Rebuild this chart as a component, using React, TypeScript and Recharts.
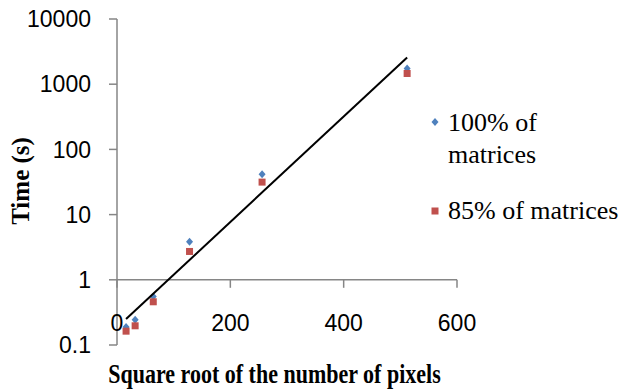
import { ScatterChart, Scatter, XAxis, YAxis, ReferenceLine, ReferenceDot } from 'recharts'

const pixelsSqrt = [16, 32, 64, 128, 256, 512]
const timeAll = [0.188, 0.244, 0.555, 3.83, 41.4, 1740]
const time85 = [0.163, 0.197, 0.46, 2.72, 31.5, 1460]
const trendX = [16, 512]
const trendY = [0.25, 2570]
const xTicks = [0, 200, 400, 600]
const yTicks = [0.1, 1, 10, 100, 1000, 10000]

const allData = pixelsSqrt.map((x, i) => ({ x, y: timeAll[i] }))
const data85 = pixelsSqrt.map((x, i) => ({ x, y: time85[i] }))
const trendData = trendX.map((x, i) => ({ x, y: trendY[i] }))

const AXIS = '#868686'
const SANS = '"Liberation Sans", Arial, sans-serif'
const SERIF = '"Liberation Serif", "Times New Roman", serif'

const Diamond = ({ cx, cy }: any) => (
  <polygon
    points={`${cx},${cy - 4} ${cx + 3.5},${cy} ${cx},${cy + 4} ${cx - 3.5},${cy}`}
    fill="#4F81BD"
  />
)

const Square = ({ cx, cy }: any) => <rect x={cx - 3.5} y={cy - 3.5} width={7} height={7} fill="#C0504D" />

const XTick = ({ x, y, payload }: any) => (
  <text x={x} y={y - 14} textAnchor="middle" fill="#000" fontSize={23} fontFamily={SANS}>
    {payload.value}
  </text>
)

const TickMark = ({ cx, cy }: any) => <line x1={cx} y1={cy} x2={cx} y2={cy + 8} stroke={AXIS} strokeWidth={1.5} />

export default function App() {
  return (
    <div style={{ position: 'absolute', left: 0, top: 0, width: 624, height: 389, background: '#fff' }}>
      <ScatterChart width={624} height={389} margin={{ top: 19, right: 167, bottom: 0, left: 0 }}>
        <XAxis
          type="number"
          dataKey="x"
          domain={[0, 600]}
          ticks={xTicks}
          axisLine={false}
          tickLine={false}
          tickSize={0}
          tickMargin={0}
          height={44}
          tick={<XTick />}
        />
        <YAxis
          type="number"
          dataKey="y"
          scale="log"
          domain={[0.1, 10000]}
          ticks={yTicks}
          allowDataOverflow
          width={117}
          axisLine={{ stroke: AXIS, strokeWidth: 1.5 }}
          tickLine={{ stroke: AXIS, strokeWidth: 1.5 }}
          tickSize={8}
          tickMargin={18}
          tick={{ fill: '#000', fontSize: 23, fontFamily: SANS }}
        />
        <ReferenceLine y={1} stroke={AXIS} strokeWidth={1.5} />
        {xTicks.map((t) => (
          <ReferenceDot key={t} x={t} y={1} shape={<TickMark />} />
        ))}
        <Scatter data={allData} shape={<Diamond />} isAnimationActive={false} />
        <Scatter data={data85} shape={<Square />} isAnimationActive={false} />
        <Scatter
          data={trendData}
          line={{ stroke: '#000', strokeWidth: 2 }}
          shape={() => <g />}
          isAnimationActive={false}
        />
      </ScatterChart>

      <div
        style={{
          position: 'absolute',
          left: 19.5,
          top: 181,
          transform: 'translate(-50%, -50%) rotate(-90deg)',
          fontFamily: SERIF,
          fontWeight: 'bold',
          fontSize: 25,
          whiteSpace: 'nowrap',
          lineHeight: 1,
        }}
      >
        Time (s)
      </div>
      <div
        style={{
          position: 'absolute',
          left: 0,
          width: 549,
          top: 364.6,
          textAlign: 'center',
          fontFamily: SERIF,
          fontWeight: 'bold',
          fontSize: 22,
          lineHeight: 1,
          whiteSpace: 'nowrap',
          transform: 'scaleY(1.2)',
          transformOrigin: 'center 18.4px',
        }}
      >
        Square root of the number of pixels
      </div>

      <svg style={{ position: 'absolute', left: 0, top: 0 }} width={624} height={389} pointerEvents="none">
        <Diamond cx={435} cy={122} />
        <Square cx={435} cy={211} />
      </svg>
      <div
        style={{
          position: 'absolute',
          left: 448,
          top: 107,
          width: 120,
          fontFamily: SERIF,
          fontSize: 26,
          lineHeight: '32px',
        }}
      >
        100% of matrices
      </div>
      <div
        style={{
          position: 'absolute',
          left: 448,
          top: 195,
          fontFamily: SERIF,
          fontSize: 26,
          lineHeight: '32px',
          whiteSpace: 'nowrap',
        }}
      >
        85% of matrices
      </div>
    </div>
  )
}
